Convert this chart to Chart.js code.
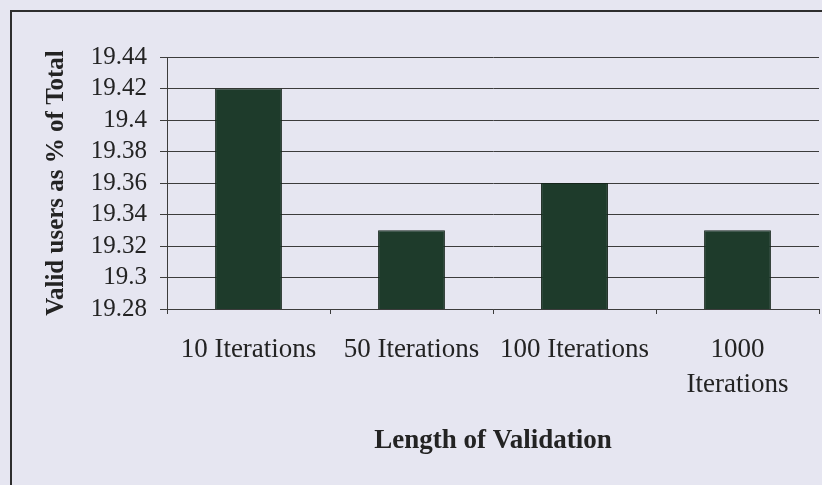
<!DOCTYPE html>
<html>
<head>
<meta charset="utf-8">
<title>Valid users by length of validation</title>
<script src="https://cdn.jsdelivr.net/npm/chart.js@4/dist/chart.umd.min.js"></script>
<style>
  html, body { margin: 0; padding: 0; background: #e6e6f1; }
  #wrap { width: 822px; height: 485px; }
</style>
</head>
<body>
<div id="wrap"><canvas id="myChart"></canvas></div>
<script>
// categories and values
var categories = ['10 Iterations', '50 Iterations', '100 Iterations', ['1000', 'Iterations']];
var validUsers = [19.42, 19.33, 19.36, 19.33];
var yTicks = [19.28, 19.3, 19.32, 19.34, 19.36, 19.38, 19.4, 19.42, 19.44];

var serif = "'Liberation Serif', 'DejaVu Serif', serif";
var ink = '#232323';
var lineCol = '#3c3c3c';

// page background and the frame around the chart
var framePlugin = {
    id: 'frame',
    beforeDraw: function (chart) {
        var c = chart.ctx;
        c.save();
        c.fillStyle = '#e6e6f1';
        c.fillRect(0, 0, chart.width, chart.height);
        c.strokeStyle = '#2e2e2e';
        c.lineWidth = 2;
        c.beginPath();
        c.moveTo(11, chart.height);
        c.lineTo(11, 11);
        c.lineTo(chart.width, 11);
        c.stroke();
        c.restore();
    }
};

var ctx = document.getElementById('myChart').getContext('2d');

var graphData = {
    type: 'bar',
    data: {
        labels: categories,
        datasets: [{
            label: 'Valid users',
            data: validUsers,
            backgroundColor: '#1e3b2b',
            borderColor: '#15251b',
            borderWidth: 1,
            barPercentage: 0.41,
            categoryPercentage: 1.0
        }]
    },
    options: {
        responsive: true,
        maintainAspectRatio: false,
        animation: false,
        layout: { padding: { top: 57, left: 0, right: 3, bottom: 0 } },
        plugins: {
            legend: { display: false },
            tooltip: { enabled: false }
        },
        scales: {
            x: {
                grid: {
                    drawOnChartArea: false,
                    drawTicks: true,
                    tickLength: 5,
                    color: lineCol,
                    offset: true
                },
                border: { color: lineCol, width: 1 },
                ticks: {
                    color: ink,
                    font: { family: serif, size: 27, lineHeight: 1.27 },
                    padding: 19,
                    maxRotation: 0,
                    autoSkip: false
                },
                title: {
                    display: true,
                    text: 'Length of Validation',
                    color: ink,
                    font: { family: serif, size: 27, weight: 'bold' },
                    padding: { top: 0, bottom: 28 }
                },
                afterFit: function (scale) { scale.height = 176; }
            },
            y: {
                min: 19.28,
                max: 19.44,
                afterBuildTicks: function (scale) {
                    scale.ticks = yTicks.map(function (v) { return { value: v }; });
                },
                grid: {
                    color: lineCol,
                    lineWidth: 1,
                    drawTicks: true,
                    tickLength: 7
                },
                border: { color: lineCol, width: 1 },
                ticks: {
                    color: ink,
                    font: { family: serif, size: 25 },
                    padding: 13,
                    autoSkip: false,
                    callback: function (v) { return String(parseFloat(Number(v).toFixed(2))); }
                },
                title: {
                    display: true,
                    text: 'Valid users as % of Total',
                    color: ink,
                    font: { family: serif, size: 25, weight: 'bold' },
                    padding: { top: 42, bottom: 0 }
                },
                afterFit: function (scale) { scale.width = 167; }
            }
        }
    },
    plugins: [framePlugin]
};

var myChart = new Chart(ctx, graphData);
</script>
</body>
</html>
